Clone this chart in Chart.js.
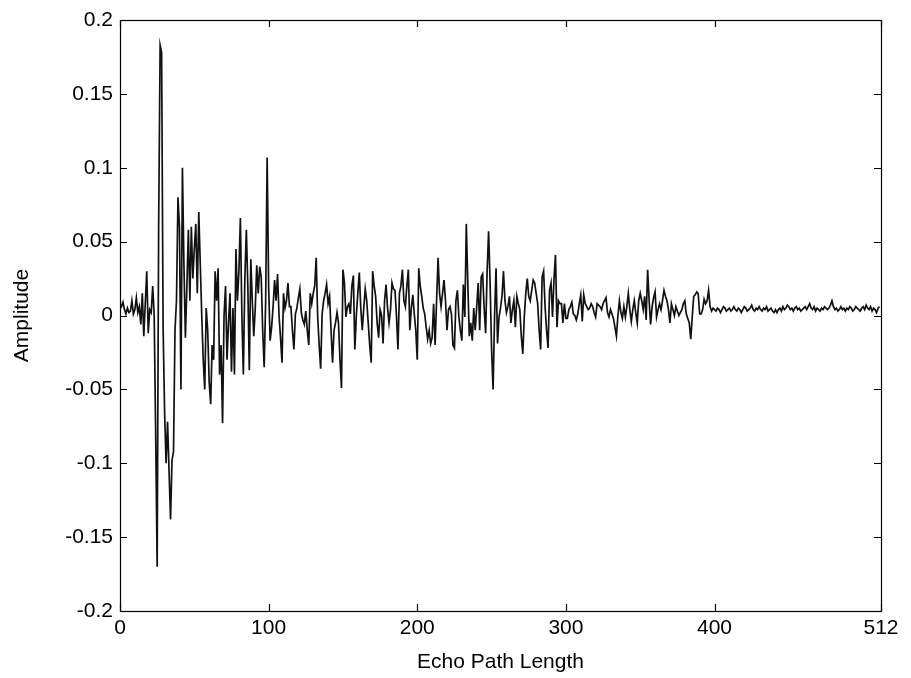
<!DOCTYPE html>
<html>
<head>
<meta charset="utf-8">
<script src="https://cdn.jsdelivr.net/npm/chart.js@4"></script>
<style>
  html, body { margin: 0; padding: 0; background: #fff; }
  canvas { display: block; }
</style>
</head>
<body>
<canvas id="echoChart" width="911" height="678"></canvas>
<script>
// Réponse impulsionnelle du trajet d'écho, échantillons 0..511
const echoHead = [
  0.008, 0.006, 0.009, 0.004, 0.001, 0.005, 0.002, 0.003, 0.010, 0.001,
  0.004, 0.012, 0.002, 0.006, -0.006, 0.015, -0.014, 0.008, 0.030, -0.012,
  0.004, 0.002, 0.020, 0.000, -0.080, -0.170, 0.060, 0.183, 0.178, -0.008,
  -0.065, -0.100, -0.072, -0.105, -0.138, -0.098, -0.092, -0.010, 0.010, 0.080,
  0.060, -0.050, 0.100, 0.035, -0.015, 0.020, 0.058, 0.010, 0.060, 0.025
];
const echoEarly = [
  0.045, 0.062, 0.015, 0.070, 0.035, 0.000, -0.030, -0.050, 0.005, -0.010,
  -0.045, -0.060, -0.020, -0.030, 0.030, 0.010, 0.032, -0.040, -0.020, -0.073,
  0.000, 0.020, -0.030, -0.005, 0.015, -0.038, 0.005, -0.040, 0.045, 0.010,
  0.030, 0.066, 0.000, -0.040, 0.025, 0.058, 0.020, -0.037, 0.038, 0.010,
  -0.014, 0.005, 0.034, 0.015, 0.033, 0.026, -0.010, -0.035, 0.010, 0.107,
  0.020, -0.017, -0.008, 0.006, 0.024, 0.010, 0.028, 0.000, -0.015, -0.032,
  0.015, 0.005, 0.010, 0.022, 0.006, 0.006, -0.010, -0.023, 0.001, 0.005,
  0.012, 0.018, 0.002, -0.003, -0.006, 0.003, -0.010, -0.020, 0.015, 0.008,
  0.015, 0.020, 0.039, -0.001, -0.020, -0.036, 0.001, 0.010, 0.015, 0.021,
  0.008, 0.013, -0.010, -0.032, -0.010, -0.005, 0.002, -0.005, -0.030, -0.049
];
const echoMid = [
  0.031, 0.022, -0.001, 0.006, 0.008, 0.001, 0.020, 0.027, -0.023, 0.000,
  0.015, 0.029, 0.005, -0.010, 0.005, 0.018, 0.010, -0.005, -0.020, -0.032,
  0.030, 0.020, 0.013, -0.005, -0.015, 0.004, 0.000, -0.019, 0.010, 0.021,
  0.005, -0.005, 0.004, 0.022, 0.018, 0.017, 0.000, -0.023, 0.015, 0.020,
  0.031, 0.010, 0.006, 0.020, 0.031, -0.010, 0.005, 0.014, 0.001, -0.010,
  -0.030, 0.032, 0.020, 0.013, 0.005, 0.001, -0.008, -0.016, -0.010, -0.019,
  -0.015, 0.008, -0.020, 0.010, 0.039, 0.015, 0.006, 0.015, 0.024, 0.010,
  -0.010, 0.004, 0.006, 0.001, -0.020, -0.022, 0.010, 0.017, -0.001, -0.010,
  -0.017, 0.021, -0.001, 0.062, 0.022, -0.014, -0.005, -0.017, 0.005, -0.010,
  0.006, 0.022, -0.010, 0.026, 0.028, 0.005, -0.012, 0.030, 0.057, 0.022,
  -0.023, -0.050, -0.001, 0.032, -0.019, -0.001, 0.005, 0.013, 0.030, 0.010,
  0.002, 0.006, 0.013, -0.005, 0.004, 0.010, -0.008, 0.013, 0.008, 0.004,
  -0.014, -0.026, -0.001, 0.015, 0.025, 0.013, 0.010, 0.017, 0.024, 0.022,
  0.015, 0.008, -0.010, -0.023, 0.026, 0.030, 0.006, -0.010, -0.022, 0.017,
  0.022, -0.001, 0.025, 0.041, -0.008, 0.010, 0.008, 0.008, -0.005, 0.008
];
const echoLate = [
  -0.002, -0.002, 0.004, 0.006, 0.009, 0.001, 0.000, -0.003, 0.001, 0.008,
  0.014, -0.004, 0.014, 0.008, 0.006, 0.004, 0.005, 0.008, 0.006, 0.002,
  -0.001, 0.008, 0.007, 0.006, 0.004, 0.008, 0.010, 0.012, 0.002, -0.001,
  0.004, 0.001, -0.002, -0.008, -0.014, 0.000, 0.010, 0.002, -0.002, 0.006,
  -0.001, 0.006, 0.015, 0.004, -0.004, 0.004, 0.010, 0.002, -0.005, 0.010,
  0.015, 0.010, 0.004, 0.013, -0.003, 0.031, 0.010, -0.006, 0.006, 0.012,
  0.016, -0.001, 0.004, 0.008, 0.004, 0.010, 0.017, 0.013, 0.010, 0.004,
  -0.005, 0.008, 0.004, 0.000, 0.006, 0.003, 0.000, 0.002, 0.004, 0.008,
  0.010, 0.001, -0.002, -0.005, -0.016, -0.001, 0.013, 0.014, 0.016, 0.015,
  0.001, 0.001, 0.004, 0.011, 0.008, 0.010, 0.017, 0.006, 0.003, 0.005
];
const echoTail = [
  0.004, 0.003, 0.005, 0.004, 0.002, 0.004, 0.006, 0.005, 0.003, 0.004,
  0.005, 0.003, 0.004, 0.006, 0.004, 0.003, 0.005, 0.004, 0.002, 0.004,
  0.006, 0.005, 0.003, 0.004, 0.005, 0.007, 0.004, 0.003, 0.005, 0.004,
  0.006, 0.004, 0.003, 0.005, 0.004, 0.006, 0.003, 0.004, 0.005, 0.003,
  0.002, 0.004, 0.002, 0.004, 0.005, 0.003, 0.006, 0.004, 0.005, 0.007,
  0.006, 0.004, 0.005, 0.003, 0.005, 0.006, 0.004, 0.005, 0.003, 0.004,
  0.005, 0.006, 0.004, 0.006, 0.008, 0.005, 0.004, 0.006, 0.003, 0.005,
  0.004, 0.003, 0.005, 0.004, 0.006, 0.005, 0.004, 0.005, 0.007, 0.010,
  0.006, 0.004, 0.005, 0.003, 0.004, 0.006, 0.004, 0.005, 0.003, 0.005,
  0.004, 0.006, 0.005, 0.003, 0.004, 0.006, 0.005, 0.004, 0.003, 0.005,
  0.006, 0.004, 0.007, 0.005, 0.004, 0.006, 0.003, 0.005, 0.004, 0.002,
  0.005, 0.006
];

const xTicks = [0, 100, 200, 300, 400, 512];
const yTicks = [-0.2, -0.15, -0.1, -0.05, 0, 0.05, 0.1, 0.15, 0.2];

const amplitude = [...echoHead, ...echoEarly, ...echoMid, ...echoLate, ...echoTail];
const points = amplitude.map((v, i) => ({ x: i, y: v }));

const font = { family: '"Liberation Sans", Arial, Helvetica, sans-serif', size: 21 };

// Cadre et graduations intérieures façon MATLAB
const boxPlugin = {
  id: 'box',
  afterDatasetsDraw(chart) {
    const { ctx, chartArea: a, scales } = chart;
    const len = 7;
    ctx.save();
    ctx.strokeStyle = '#000';
    ctx.lineWidth = 1.2;
    ctx.beginPath();
    xTicks.forEach(v => {
      const px = Math.round(scales.x.getPixelForValue(v)) + 0.5;
      ctx.moveTo(px, a.bottom); ctx.lineTo(px, a.bottom - len);
      ctx.moveTo(px, a.top); ctx.lineTo(px, a.top + len);
    });
    yTicks.forEach(v => {
      const py = Math.round(scales.y.getPixelForValue(v)) + 0.5;
      ctx.moveTo(a.left, py); ctx.lineTo(a.left + len, py);
      ctx.moveTo(a.right, py); ctx.lineTo(a.right - len, py);
    });
    ctx.stroke();
    ctx.strokeRect(Math.round(a.left) + 0.5, Math.round(a.top) + 0.5,
      Math.round(a.right - a.left), Math.round(a.bottom - a.top));
    ctx.restore();
  }
};

new Chart(document.getElementById('echoChart'), {
  type: 'line',
  data: {
    datasets: [{
      data: points,
      borderColor: '#111',
      borderWidth: 1.7,
      pointRadius: 0,
      tension: 0,
      fill: false
    }]
  },
  options: {
    responsive: false,
    animation: false,
    events: [],
    layout: { padding: { top: 20, right: 30, left: 0, bottom: 0 } },
    plugins: { legend: { display: false }, tooltip: { enabled: false } },
    scales: {
      x: {
        type: 'linear',
        min: 0,
        max: 512,
        afterBuildTicks: scale => { scale.ticks = xTicks.map(v => ({ value: v })); },
        afterFit: scale => { scale.height = 67; },
        grid: { display: false, drawTicks: false },
        border: { display: false },
        ticks: { color: '#000', font: font, padding: 5, maxRotation: 0, autoSkip: false },
        title: { display: true, text: 'Echo Path Length', color: '#000', font: font, padding: { top: 0, bottom: 3 } }
      },
      y: {
        min: -0.2,
        max: 0.2,
        afterBuildTicks: scale => { scale.ticks = yTicks.map(v => ({ value: v })); },
        afterFit: scale => { scale.width = 120; },
        grid: { display: false, drawTicks: false },
        border: { display: false },
        ticks: {
          color: '#000', font: font, padding: 7, autoSkip: false,
          callback: v => parseFloat(v.toFixed(2)).toString()
        },
        title: { display: true, text: 'Amplitude', color: '#000', font: font, padding: { top: 10, bottom: 0 } }
      }
    }
  },
  plugins: [boxPlugin]
});
</script>
</body>
</html>
